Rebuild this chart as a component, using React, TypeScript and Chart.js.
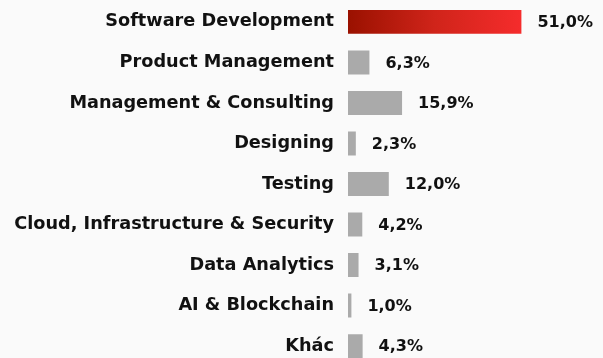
import React, { useEffect, useRef } from "react";
import { Chart, registerables } from "chart.js";

Chart.register(...registerables);

const categories = [
  "Software Development",
  "Product Management",
  "Management & Consulting",
  "Designing",
  "Testing",
  "Cloud, Infrastructure & Security",
  "Data Analytics",
  "AI & Blockchain",
  "Khác",
];
const values = [51.0, 6.3, 15.9, 2.3, 12.0, 4.2, 3.1, 1.0, 4.3];
const xMax = 75;

const FONT = "'DejaVu Sans', sans-serif";

const valueLabels = {
  id: "valueLabels",
  afterDatasetsDraw(chart: any) {
    const ctx = chart.ctx;
    const meta = chart.getDatasetMeta(0);
    ctx.save();
    ctx.font = `700 16px ${FONT}`;
    ctx.fillStyle = "#111111";
    ctx.textAlign = "left";
    ctx.textBaseline = "middle";
    meta.data.forEach((bar: any, i: number) => {
      const txt = values[i].toFixed(1).replace(".", ",") + "%";
      ctx.fillText(txt, bar.x + 16, bar.y + 1);
    });
    ctx.restore();
  },
};

export default function App() {
  const ref = useRef<HTMLCanvasElement>(null);
  useEffect(() => {
    document.body.style.margin = "0";
    document.body.style.background = "#fafafa";
    const canvas = ref.current!;
    const chart = new Chart(canvas, {
      type: "bar",
      data: {
        labels: categories,
        datasets: [
          {
            data: values,
            backgroundColor: (c: any) => {
              if (c.dataIndex !== 0) return "#aaaaaa";
              const area = c.chart.chartArea;
              const xs = c.chart.scales && c.chart.scales.x;
              if (!area || !xs) return "#d41e14";
              const x0 = area.left;
              const x1 = xs.getPixelForValue(values[0]);
              if (!isFinite(x0) || !isFinite(x1) || x1 <= x0) return "#d41e14";
              const g = c.chart.ctx.createLinearGradient(x0, 0, x1, 0);
              g.addColorStop(0, "#9a1100");
              g.addColorStop(0.5, "#d0241a");
              g.addColorStop(1, "#f52c2c");
              return g;
            },
            borderWidth: 0,
            barPercentage: 0.72,
            categoryPercentage: 0.82,
          },
        ],
      },
      options: {
        indexAxis: "y",
        animation: false,
        responsive: false,
        maintainAspectRatio: false,
        layout: { padding: { top: 0, bottom: 0, left: 0, right: 0 } },
        plugins: { legend: { display: false }, tooltip: { enabled: false } },
        scales: {
          x: { display: false, min: 0, max: xMax },
          y: {
            grid: { display: false, drawTicks: false },
            border: { display: false },
            afterFit: (s: any) => {
              s.width = 348;
            },
            ticks: {
              padding: 14,
              color: "#111111",
              font: { family: FONT, size: 17.7, weight: "700" },
            },
          },
        },
      },
      plugins: [valueLabels],
    });
    return () => chart.destroy();
  }, []);
  return (
    <div style={{ width: 603, height: 358, overflow: "hidden", background: "#fafafa" }}>
      <canvas ref={ref} width={603} height={414} style={{ display: "block", marginTop: -23 }} />
    </div>
  );
}
